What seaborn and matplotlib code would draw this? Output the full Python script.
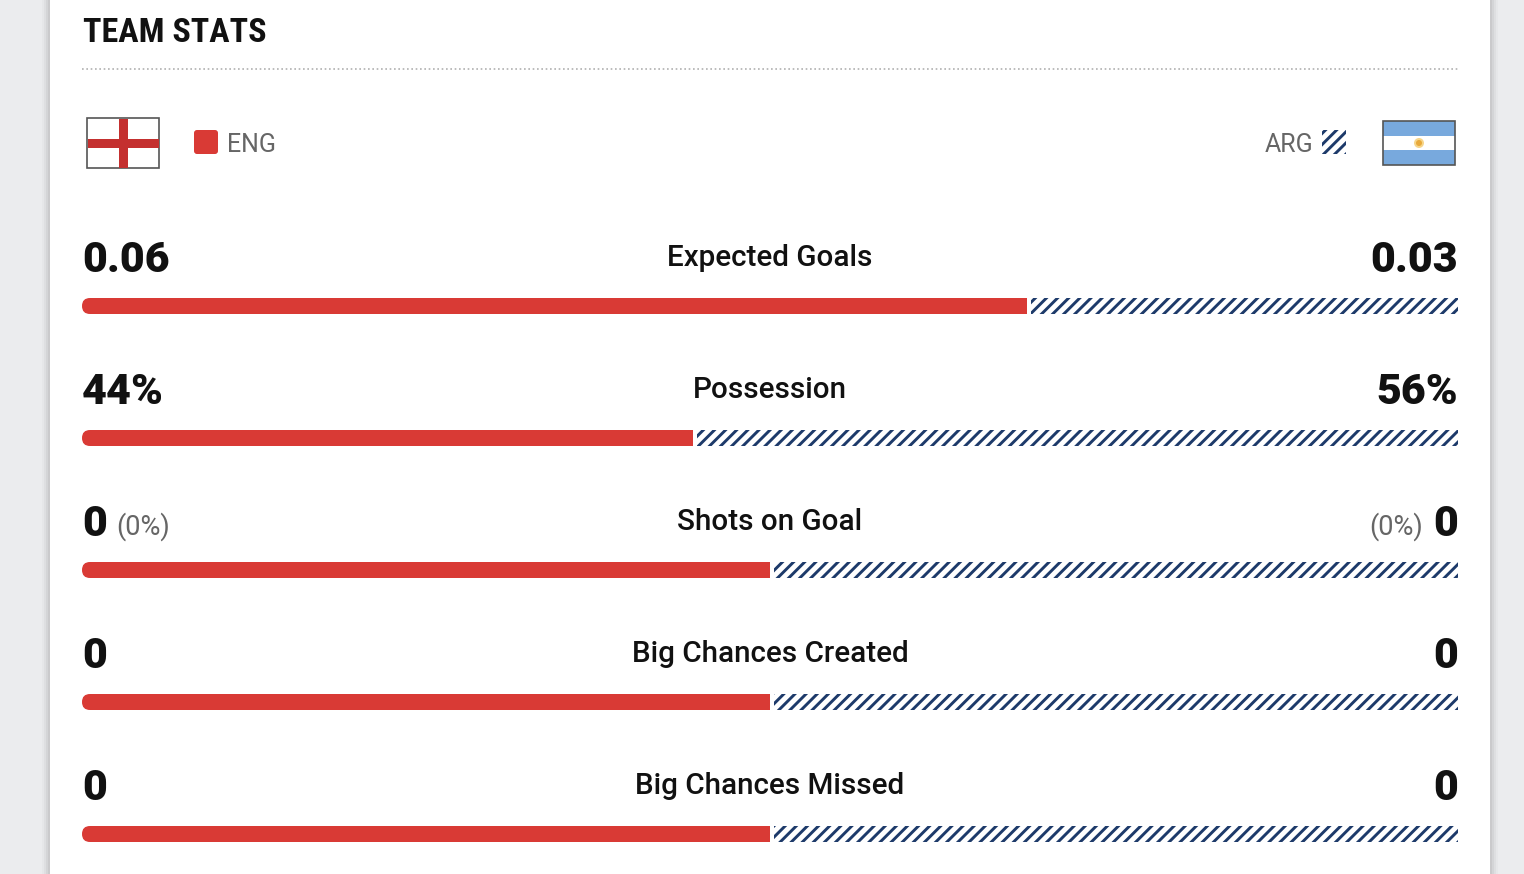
import numpy as np
import pandas as pd
import seaborn as sns
import matplotlib.pyplot as plt
from matplotlib.patches import Rectangle, FancyBboxPatch, Circle

# data
stats = ["Expected Goals", "Possession", "Shots on Goal", "Big Chances Created", "Big Chances Missed"]
eng_values = ["0.06", "44%", "0", "0", "0"]
arg_values = ["0.03", "56%", "0", "0", "0"]
eng_pct = [None, None, "(0%)", None, None]
arg_pct = [None, None, "(0%)", None, None]
eng_share = [0.687, 0.444, 0.5, 0.5, 0.5]
teams = ["ENG", "ARG"]

RED = "#d93a35"
NAVY = "#1d3a6a"
BG = "#ebecee"
DARK = "#111111"
GREY = "#666666"

sns.set_theme(style="white")
plt.rcParams["font.family"] = ["Roboto", "DejaVu Sans"]
plt.rcParams["hatch.linewidth"] = 2.1

W, H = 1524, 874
fig = plt.figure(figsize=(W / 100, H / 100), dpi=100)
fig.patch.set_facecolor(BG)

# background axes in pixel units
bg = fig.add_axes([0, 0, 1, 1])
bg.set_xlim(0, W)
bg.set_ylim(H, 0)
bg.axis("off")

# card with a soft shadow at the edges
for i, a in enumerate([0.05, 0.04, 0.03, 0.02]):
    bg.add_patch(Rectangle((50 - 2 - i * 2, -10), 1440 + 4 + i * 4, H + 20,
                           facecolor="black", alpha=a, lw=0))
bg.add_patch(Rectangle((50, -10), 1440, H + 20, facecolor="white", lw=0))

bg.text(83, 42, "TEAM STATS", fontsize=24.5, fontweight="heavy", color=DARK,
        family=["Roboto Condensed", "Liberation Sans Narrow", "Roboto"], va="baseline")
bg.plot([82, 1458], [69, 69], color="#b0b0b0", lw=1.2, linestyle=(0, (1, 1.6)))

# England flag
bg.add_patch(Rectangle((87, 118), 72, 50, facecolor="white", edgecolor="#555555", lw=1.2))
bg.add_patch(Rectangle((118.5, 118.5), 9, 49, facecolor="#c4302f", lw=0))
bg.add_patch(Rectangle((87.5, 138.5), 71, 9, facecolor="#c4302f", lw=0))

# Argentina flag
bg.add_patch(Rectangle((1383, 121), 72, 15, facecolor="#78a9dd", lw=0))
bg.add_patch(Rectangle((1383, 136), 72, 14, facecolor="white", lw=0))
bg.add_patch(Rectangle((1383, 150), 72, 15, facecolor="#78a9dd", lw=0))
bg.add_patch(Rectangle((1383, 121), 72, 44, facecolor="none", edgecolor="#555555", lw=1.2))
bg.add_patch(Circle((1419, 143), 5, facecolor="#f6d58a", lw=0))
bg.add_patch(Circle((1419, 143), 3, facecolor="#e8a93a", lw=0))

# legend marks
bg.add_patch(FancyBboxPatch((194, 130), 24, 24, boxstyle="round,pad=0,rounding_size=3",
                            facecolor=RED, lw=0))
bg.text(227, 142, teams[0], fontsize=18, color=GREY, va="center_baseline")
bg.add_patch(Rectangle((1322, 130), 24, 24, facecolor="white", edgecolor=NAVY,
                       hatch="///", lw=0))
bg.text(1313, 142, teams[1], fontsize=18, color=GREY, va="center_baseline", ha="right")

# stat texts
row0, step = 272, 132
for i, name in enumerate(stats):
    yb = row0 + i * step
    bg.text(82, yb, eng_values[i], fontsize=31, fontweight="black", color=DARK, va="baseline")
    bg.text(1458, yb, arg_values[i], fontsize=31, fontweight="black", color=DARK,
            va="baseline", ha="right")
    bg.text(770, yb - 6, name, fontsize=21.3, fontweight="medium", color=DARK,
            va="baseline", ha="center")
    if eng_pct[i]:
        bg.text(116, yb - 1, eng_pct[i], fontsize=19.5, color=GREY, va="baseline")
    if arg_pct[i]:
        bg.text(1423, yb - 1, arg_pct[i], fontsize=19.5, color=GREY,
                va="baseline", ha="right")

# bar axes: one category per 132 px, first centre at y=306 px
top_px, bot_px = 306 - 66, 306 + 132 * 4.25
ax = fig.add_axes([82 / W, (H - bot_px) / H, 1376 / W, (bot_px - top_px) / H])
ax.patch.set_alpha(0)

df = pd.DataFrame({"stat": stats, "eng": eng_share})
bar_h = 16 / 132
gap = 4 / 1376
sns.barplot(data=df, x="eng", y="stat", color=RED, saturation=1, width=bar_h,
            errorbar=None, ax=ax, linewidth=0)

# rounded left ends on the red bars
r = 8 / 1376
for p in list(ax.patches):
    x0, y0, w, h = p.get_x(), p.get_y(), p.get_width(), p.get_height()
    p.set_x(x0 + r)
    p.set_width(w - r)
    ax.add_patch(FancyBboxPatch((x0, y0), 3 * r, h,
                                boxstyle=f"round,pad=0,rounding_size={r}",
                                mutation_aspect=1376 / 132,
                                facecolor=RED, lw=0))

arg_left = np.array(eng_share) + gap
ax.barh(np.arange(len(stats)), 1 - arg_left, left=arg_left, height=bar_h,
        color="white", edgecolor=NAVY, hatch="///", linewidth=0)

ax.set_xlim(0, 1)
ax.set_ylim(4.25, -0.5)
ax.axis("off")

fig.savefig("out.png", dpi=100, facecolor=BG)
